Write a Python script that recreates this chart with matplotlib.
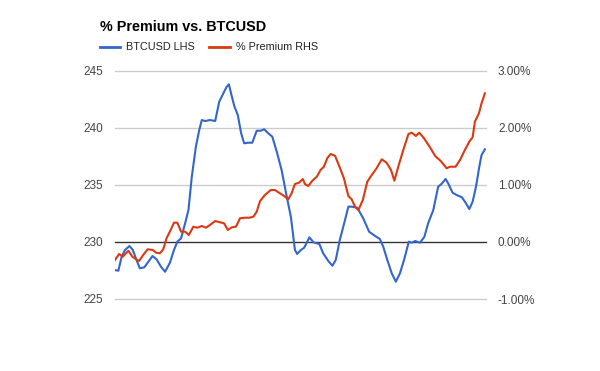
import matplotlib
matplotlib.use("Agg")
import matplotlib.pyplot as plt
from matplotlib.ticker import FuncFormatter

plt.rcParams['font.family'] = ['Liberation Sans', 'DejaVu Sans']

# time index (0-100 across the chart)
btc_t = [0, 0.9, 1.8, 2.7, 3.9, 4.8, 5.8, 6.7, 7.9, 9.0, 10.1, 11.2, 12.4, 13.5, 14.8,
         15.9, 16.8, 17.8, 18.9, 19.8, 20.7, 21.8, 22.7, 23.4, 24.3, 25.6, 27.0, 28.1,
         29.2, 30.1, 30.7, 31.5, 32.2, 33.1, 34.0, 34.8, 35.9, 37.0, 38.2, 39.3, 40.2,
         41.3, 42.4, 43.6, 44.9, 46.3, 47.4, 48.5, 49.1, 50.1, 51.0, 52.4, 53.5, 55.1,
         56.1, 57.5, 58.6, 59.5, 60.6, 62.0, 62.9, 63.8, 65.3, 66.9, 68.5, 70.1, 71.4,
         72.3, 73.4, 74.6, 75.7, 76.8, 77.9, 79.2, 80.0, 80.9, 82.2, 83.4, 84.4, 85.8,
         87.1, 88.0, 89.1, 89.8, 91.0, 92.1, 93.5, 94.5, 95.5, 96.4, 97.3, 98.2, 98.8, 99.7]
btc_usd = [227.54, 227.48, 228.71, 229.30, 229.65, 229.30, 228.42, 227.69, 227.78, 228.27,
           228.77, 228.48, 227.83, 227.39, 228.18, 229.30, 230.03, 230.32, 231.64, 232.81,
           235.73, 238.36, 239.82, 240.70, 240.61, 240.70, 240.61, 242.31, 243.04, 243.62,
           243.83, 242.75, 241.87, 241.14, 239.54, 238.66, 238.71, 238.71, 239.76, 239.76,
           239.89, 239.54, 239.24, 237.92, 236.32, 233.97, 232.22, 229.30, 228.95, 229.30,
           229.50, 230.41, 229.97, 229.82, 229.01, 228.33, 227.92, 228.42, 230.18, 231.93,
           233.10, 233.10, 233.01, 232.08, 230.90, 230.53, 230.26, 229.59, 228.42, 227.25,
           226.52, 227.25, 228.42, 230.03, 229.94, 230.09, 229.94, 230.46, 231.64, 232.81,
           234.85, 235.09, 235.53, 235.15, 234.32, 234.12, 233.92, 233.45, 232.89, 233.54,
           234.85, 236.61, 237.63, 238.13]

prem_t = [0, 1.1, 2.1, 3.6, 4.7, 5.7, 6.5, 7.6, 8.8, 10.2, 11.1, 12.1, 13.0, 13.9, 15.0,
          15.9, 16.8, 17.8, 18.9, 19.9, 21.1, 22.2, 23.4, 24.5, 25.6, 27.0, 28.3, 29.4,
          30.4, 31.5, 32.6, 33.7, 35.0, 36.2, 37.3, 38.2, 39.1, 40.4, 42.0, 43.1, 44.2,
          45.6, 46.7, 47.6, 48.5, 49.6, 50.6, 51.2, 52.1, 53.2, 54.4, 55.4, 56.3, 57.2,
          58.1, 59.3, 60.5, 61.7, 62.9, 63.8, 64.7, 65.6, 66.8, 68.0, 69.2, 70.5, 71.9,
          73.2, 74.4, 75.3, 76.4, 77.7, 79.1, 80.0, 81.1, 82.0, 83.3, 84.9, 86.3, 87.8,
          89.4, 90.3, 91.8, 93.0, 94.3, 95.5, 96.4, 97.0, 98.1, 98.8, 99.7]
premium_pct = [-0.316, -0.211, -0.258, -0.153, -0.258, -0.304, -0.333, -0.228, -0.128, -0.140,
               -0.188, -0.198, -0.128, 0.065, 0.211, 0.339, 0.339, 0.181, 0.181, 0.123,
               0.268, 0.251, 0.281, 0.251, 0.298, 0.368, 0.346, 0.328, 0.211, 0.258,
               0.268, 0.416, 0.426, 0.426, 0.444, 0.532, 0.719, 0.825, 0.912, 0.912,
               0.865, 0.807, 0.749, 0.854, 1.018, 1.040, 1.105, 1.018, 0.982, 1.075,
               1.146, 1.263, 1.321, 1.468, 1.544, 1.514, 1.321, 1.118, 0.807, 0.749,
               0.619, 0.561, 0.737, 1.058, 1.175, 1.293, 1.451, 1.391, 1.263, 1.075,
               1.333, 1.614, 1.895, 1.918, 1.860, 1.918, 1.819, 1.661, 1.509, 1.421,
               1.293, 1.321, 1.321, 1.439, 1.614, 1.760, 1.837, 2.111, 2.258, 2.433, 2.609]

left_ticks = [225, 230, 235, 240, 245]
right_ticks = [-1, 0, 1, 2, 3]

title = "% Premium vs. BTCUSD"
labels = ["BTCUSD LHS", "% Premium RHS"]
blue = "#3366CC"
red = "#DC3912"
tick_color = "#444444"

fig = plt.figure(figsize=(6, 3.71), dpi=100)
ax = fig.add_axes([115/600, 1-299/371, (486-115)/600, (299-71)/371])
ax2 = ax.twinx()

ax.set_xlim(0, 100)
ax.set_ylim(225, 245)
ax2.set_ylim(-1, 3)

for v in left_ticks:
    if v == 230:
        ax.axhline(v, color="#333333", lw=1.0, zorder=1, clip_on=False)
    else:
        ax.axhline(v, color="#cccccc", lw=1.0, zorder=0, clip_on=False)

ax.plot(btc_t, btc_usd, color=blue, lw=1.5, zorder=3, solid_joinstyle='round')
ax2.plot(prem_t, premium_pct, color=red, lw=1.5, zorder=3, solid_joinstyle='round')

ax.set_yticks(left_ticks)
ax2.set_yticks(right_ticks)
ax2.yaxis.set_major_formatter(FuncFormatter(lambda v, p: f"{v:.2f}%"))
ax.set_xticks([])
for a in (ax, ax2):
    for s in a.spines.values():
        s.set_visible(False)
    a.tick_params(axis='y', length=0, pad=8.6, labelsize=8.5, labelcolor=tick_color)
ax.set_zorder(ax2.get_zorder() - 1)
ax.patch.set_visible(True)
ax2.patch.set_visible(False)

fig.text(100/600, 1-27/371, title, fontsize=10.4, fontweight='bold', va='center', ha='left', color='black')

# legend
ly = 1 - 47/371
fig.add_artist(plt.Line2D([100/600, 120/600], [ly, ly], color=blue, lw=2))
fig.text(126/600, ly, labels[0], fontsize=7.8, va='center', ha='left', color='#222222')
fig.add_artist(plt.Line2D([209/600, 230/600], [ly, ly], color=red, lw=2))
fig.text(236/600, ly, labels[1], fontsize=7.8, va='center', ha='left', color='#222222')

fig.savefig("out.png", dpi=100)
